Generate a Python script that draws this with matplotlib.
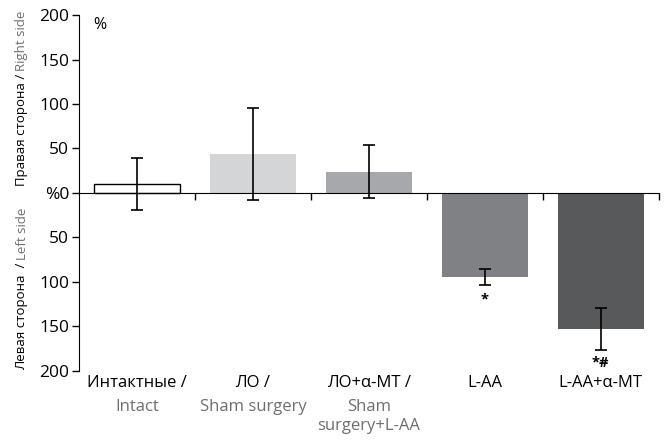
import matplotlib
matplotlib.use("Agg")
import matplotlib.pyplot as plt

plt.rcParams['font.family'] = ['Open Sans', 'DejaVu Sans']

groups_ru = ["Интактные /", "ЛО /", "ЛО+α-МТ /", "L-AA", "L-AA+α-МТ"]
groups_en = ["Intact", "Sham surgery", "Sham\nsurgery+L-AA", "", ""]
values = [10, 44, 24, -95, -153]
errors = [29, 52, 30, 9, 24]
colors = ["white", "#d4d5d7", "#a7a8ab", "#808184", "#58595b"]
marks = ["", "", "", "*", "*#"]
mark_y = [0, 0, 0, -120, -191]

yticks = [200, 150, 100, 50, 0, -50, -100, -150, -200]
ytick_labels = ["200", "150", "100", "50", "%0", "50", "100", "150", "200"]

fig = plt.figure(figsize=(6.64, 4.42), dpi=100)
ax = fig.add_axes([0.119, 0.161, 0.873, 0.805])

x = list(range(len(values)))
ax.bar(x, values, width=0.74, color=colors, edgecolor=["black", "none", "none", "none", "none"],
       linewidth=1.0, zorder=2)
ax.errorbar(x, values, yerr=errors, fmt="none", ecolor="black", elinewidth=1.2,
            capsize=4.5, capthick=1.2, zorder=3)

for xi, m, my in zip(x, marks, mark_y):
    if m:
        ax.text(xi, my, m, ha="center", va="center", fontsize=10.5, fontweight="bold")

ax.set_xlim(-0.5, 4.5)
ax.set_ylim(-200, 200)
ax.set_yticks(yticks)
ax.set_yticklabels(ytick_labels, fontsize=12.5)
ax.set_xticks([0.5, 1.5, 2.5, 3.5, 4.5])
ax.set_xticklabels([])
ax.tick_params(axis="x", direction="out", length=5, width=1)
ax.tick_params(axis="y", direction="out", length=5, width=1, pad=2)

ax.spines["top"].set_visible(False)
ax.spines["right"].set_visible(False)
ax.spines["bottom"].set_position(("data", 0))
ax.spines["bottom"].set_zorder(4)

ax.text(0.025, 198, "%", ha="left", va="top", fontsize=11.5, transform=ax.get_yaxis_transform())

# group labels below the axes
trans = ax.get_xaxis_transform()
for xi, ru, en in zip(x, groups_ru, groups_en):
    ax.text(xi, -0.012, ru, ha="center", va="top", fontsize=12, color="black", transform=trans)
    if en:
        ax.text(xi, -0.078, en, ha="center", va="top", fontsize=12, color="#6d6e71",
                transform=trans, linespacing=1.3)

# side labels, black then grey parts
fig.canvas.draw()
r = fig.canvas.get_renderer()
H = 442.0

def side_label(black, grey, y_bottom_px):
    t1 = fig.text(22 / 664, 1 - y_bottom_px / H, black, rotation=90, ha="center", va="bottom",
                  fontsize=9.5, color="black")
    bb = t1.get_window_extent(r)
    fig.text(22 / 664, (bb.y1 + 3) / H, grey, rotation=90, ha="center", va="bottom",
             fontsize=9.5, color="#6d6e71")

side_label("Правая сторона /", "Right side", 186)
side_label("Левая сторона  /", "Left side", 370)

fig.savefig("out.png", dpi=100)
